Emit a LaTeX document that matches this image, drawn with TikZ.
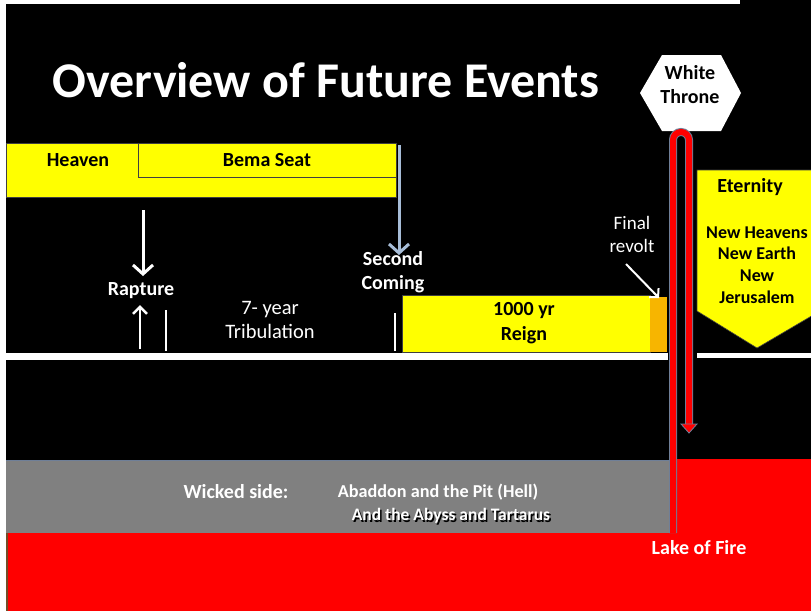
\documentclass[tikz,border=0pt]{standalone}
\usepackage{fontspec}
\setmainfont{Carlito}
\usetikzlibrary{arrows.meta}
\definecolor{tyellow}{HTML}{FFFF00}
\definecolor{torange}{HTML}{F7B500}
\definecolor{tred}{HTML}{FF0000}
\definecolor{tgray}{HTML}{808080}
\definecolor{tblue}{HTML}{A7BDD8}
\definecolor{tedge}{HTML}{6F7F98}
\definecolor{tdark}{HTML}{404040}
\tikzset{
  wtxt/.style={text=white, font=\bfseries\fontsize{20}{24}\selectfont, align=center, inner sep=0pt},
  btxt/.style={text=black, font=\bfseries\fontsize{20}{24}\selectfont, align=center, inner sep=0pt},
  warrow/.style={draw=white, line width=3pt, -{Straight Barb[length=9pt,width=20pt,line width=3pt]}},
  thinw/.style={draw=white, line width=1.5pt},
}
\begin{document}
\begin{tikzpicture}[x=1pt,y=-1pt]
\useasboundingbox (0,0) rectangle (811,611);
% background
\fill[black] (0,0) rectangle (811,611);
\fill[white] (0,0) rectangle (6,611);
\fill[white] (0,0) rectangle (740,4);
% lower regions
\fill[tgray] (6,460) rectangle (670,533);
\draw[tedge, line width=0.8pt] (6,460) -- (670,460);
\fill[tred] (670,459) rectangle (811,533);
\fill[tred] (6,533) rectangle (811,611);
\fill[black!40!brown] (6,533) rectangle (8,611);
% title
\node[text=white, font=\bfseries\fontsize{50}{55}\selectfont, inner sep=0pt] (title) at (326,80) {Overview of Future Events};
% heaven bar
\draw[tdark, fill=tyellow, line width=0.6pt] (6,143) rectangle (396,197);
\draw[tdark, fill=tyellow, line width=0.8pt] (138,143) rectangle (396,177);
\node[btxt] (heaven) at (78,160) {Heaven};
\node[btxt] (bema) at (267,160) {Bema Seat};
\coordinate (bemaedge) at (399,145);
% timeline
\fill[white] (6,353) rectangle (668,360);
\fill[white] (697,353) rectangle (811,358);
% 1000 yr reign
\draw[tdark, fill=tyellow, line width=0.6pt] (402,295) rectangle (650,352);
\fill[torange] (650,297) rectangle (667,352);
\node[btxt, font=\bfseries\fontsize{20}{25}\selectfont] (reign) at (524,323) {1000 yr\\Reign};
% rapture
\node[wtxt] (rapture) at (141,291) {Rapture};
\coordinate (rapTop) at (143,210);
\coordinate (rapBot) at (140,349);
\draw[warrow] (rapTop) -- (143,276);
\draw[draw=white, line width=2.5pt, -{Straight Barb[length=7pt,width=14pt,line width=2.5pt]}] (rapBot) -- (140,305);
\draw[thinw] (166,310) -- (166,351);
% tribulation
\node[text=white, font=\fontsize{20.5}{24}\selectfont, align=center, inner sep=0pt] (trib) at (270,320) {7- year\\Tribulation};
\draw[thinw] (395,313) -- (395,351);
% second coming
\node[wtxt] (second) at (393,272) {Second\\Coming};
\draw[draw=tblue, line width=3pt, -{Straight Barb[length=9pt,width=20pt,line width=3pt]}] (bemaedge) -- (399,255);
% final revolt
\node[text=white, font=\fontsize{19}{23}\selectfont, align=center, inner sep=0pt] (revolt) at (632,234) {Final\\revolt};
\coordinate (orangeTop) at (659,298);
\draw[draw=white, line width=2pt, -{Straight Barb[length=6pt,width=13pt,line width=2pt]}] (626,264) -- (orangeTop);
% eternity
\draw[tdark, fill=tyellow, line width=0.6pt] (697,170) -- (820,170) -- (820,311) -- (757,348) -- (697,311) -- cycle;
\node[btxt] (eternity) at (750,187) {Eternity};
\node[text=black, font=\bfseries\fontsize{18}{21.7}\selectfont, align=center, inner sep=0pt] (newh) at (757,265) {New Heavens\\New Earth\\New\\Jerusalem};
% white throne
\fill[white] (640,93) -- (662,55) -- (721,55) -- (741,93) -- (721,131) -- (662,131) -- cycle;
\node[btxt] (throne) at (690,85) {White\\Throne};
% red tube
\coordinate (tubeL) at (673,533);
\coordinate (tubeR) at (689,424);
\draw[tedge, line width=8pt] (tubeL) -- (673,140) arc[start angle=180, end angle=360, radius=8] -- (tubeR);
\draw[tred, line width=6pt] (tubeL) -- (673,140) arc[start angle=180, end angle=360, radius=8] -- (tubeR);
\draw[tedge, fill=tred, line width=0.8pt] (681,424) -- (697,424) -- (689,433) -- cycle;
% wicked side
\node[wtxt] (wicked) at (236,492) {Wicked side:};
\node[wtxt, font=\bfseries\fontsize{18.2}{22}\selectfont] (abaddon) at (438,492) {Abaddon and the Pit (Hell)};
\node[text=black, font=\bfseries\fontsize{17.5}{20}\selectfont, inner sep=0pt] at (452.5,517.5) {And the Abyss and Tartarus};
\node[text=white, font=\bfseries\fontsize{17.5}{20}\selectfont, inner sep=0pt] (abyss) at (451,516) {And the Abyss and Tartarus};
\node[wtxt] (lake) at (699,548) {Lake of Fire};
\end{tikzpicture}
\end{document}
